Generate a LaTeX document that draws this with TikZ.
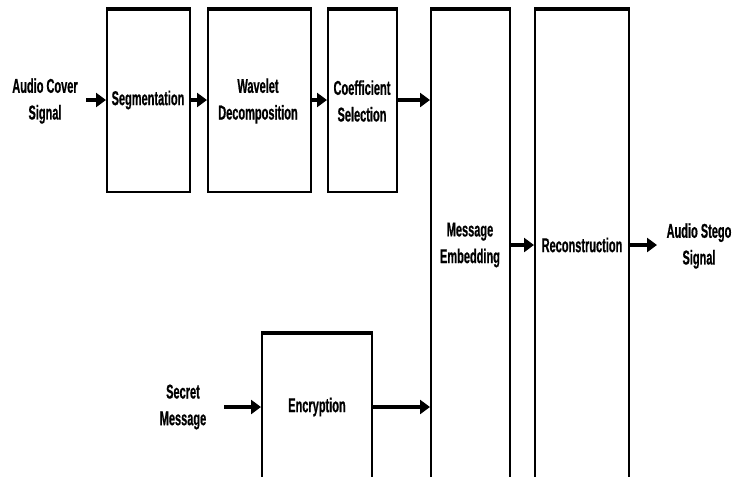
\documentclass[tikz,border=0pt]{standalone}
\usepackage{fontspec}
\setmainfont{Liberation Sans}[FakeStretch=0.55,FakeBold=0.6]
\usetikzlibrary{arrows.meta,fit}
\begin{document}
\begin{tikzpicture}[x=0.75pt,y=-0.75pt,
  blk/.style={draw, line width=1.5pt, inner sep=0pt, fill=white},
  lbl/.style={font=\bfseries\fontsize{15}{20}\selectfont, align=center, inner sep=0pt},
  topedge/.style={line width=3pt},
  arr/.style={line width=2.3pt, -{Triangle[length=7.5pt,width=10.5pt]}}]
\useasboundingbox (0,0) rectangle (736,476);
\fill[white] (0,0) rectangle (736,476);
\clip (0,0) rectangle (736,476);
% blocks
\node[blk, fit={(107,10) (190,192)}] (seg) {};
\node[blk, fit={(208,10) (311,192)}] (wav) {};
\node[blk, fit={(328,10) (397,192)}] (coe) {};
\node[blk, fit={(431,10) (510,495)}] (me) {};
\node[blk, fit={(535,10) (629,495)}] (rec) {};
\node[blk, fit={(262,334) (372,495)}] (enc) {};
\foreach \n in {seg,wav,coe,me,rec,enc}
  \draw[topedge] (\n.north west) -- (\n.north east);
% labels
\node[lbl] (in) at (45,101) {Audio Cover\\Signal};
\node[lbl] (segt) at (148,100) {Segmentation};
\node[lbl] (wavt) at (258,101) {Wavelet\\Decomposition};
\node[lbl] (coet) at (362,101) {Coefficient\\Selection};
\node[lbl] (met) at (470,245) {Message\\Embedding};
\node[lbl] (rect) at (582,245) {Reconstruction};
\node[lbl] (out) at (699,246) {Audio Stego\\Signal};
\node[lbl] (sec) at (183,407) {Secret\\Message};
\node[lbl] (enct) at (317,407) {Encryption};
\coordinate (inend) at (86,100);
\coordinate (outend) at (657,245);
\coordinate (secend) at (224,407);
% connectors
\draw[arr] (inend) -- (seg.west |- inend);
\draw[arr] (seg.east |- inend) -- (wav.west |- inend);
\draw[arr] (wav.east |- inend) -- (coe.west |- inend);
\draw[arr] (coe.east |- inend) -- (me.west |- inend);
\draw[arr] (me.east |- outend) -- (rec.west |- outend);
\draw[arr] (rec.east |- outend) -- (outend);
\draw[arr] (secend) -- (enc.west |- secend);
\draw[arr] (enc.east |- secend) -- (me.west |- secend);
\end{tikzpicture}
\end{document}
